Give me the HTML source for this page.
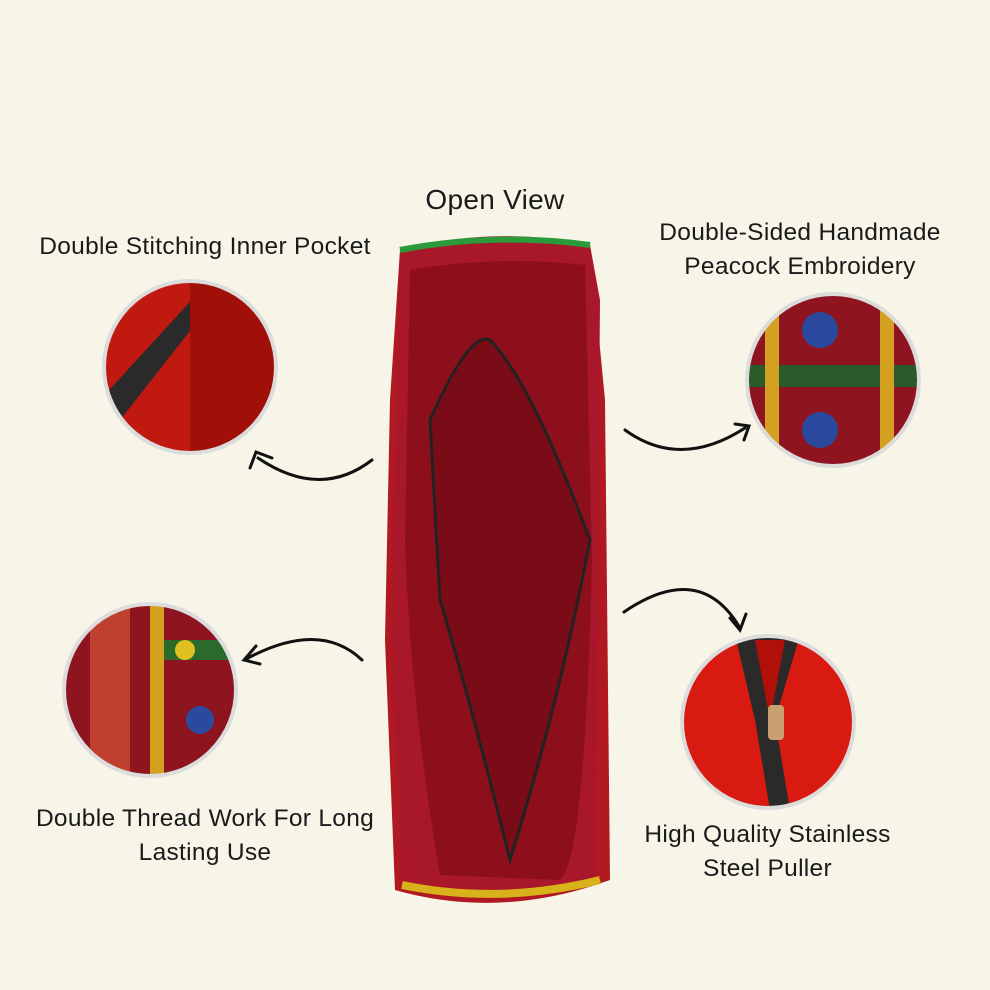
<!DOCTYPE html>
<html><head><style>
body{margin:0;width:990px;height:990px;background:#f7f4e8;position:relative;overflow:hidden;font-family:"Liberation Sans",sans-serif;color:#1a1a1a}
.t{position:absolute;text-align:center;font-size:24.5px;line-height:34px;letter-spacing:0.3px}
</style></head><body>
<svg width="990" height="990" style="position:absolute;left:0;top:0">
<defs>
<clipPath id="c1"><circle cx="190" cy="367" r="86"/></clipPath>
<clipPath id="c2"><circle cx="833" cy="380" r="86"/></clipPath>
<clipPath id="c3"><circle cx="150" cy="690" r="86"/></clipPath>
<clipPath id="c4"><circle cx="768" cy="722" r="86"/></clipPath>
</defs>
<path d="M400 250 Q495 225 590 245 L605 400 L610 880 Q500 920 395 890 L385 640 L390 400 Z" fill="#b01822"/>
<path d="M400 250 Q495 232 590 245 L600 300 L595 880 Q500 900 402 880 L392 640 Z" fill="#a8172a"/>
<path d="M410 270 Q495 255 585 265 L592 560 Q585 860 560 880 L440 875 Q410 700 405 540 Z" fill="#8e0f1c"/>
<path d="M430 420 Q470 330 490 340 Q530 380 590 540 Q560 700 510 860 Q470 700 440 600 Z" fill="#7a0c17" stroke="#222" stroke-width="3"/>
<path d="M400 250 Q495 232 590 245" stroke="#2a9a3a" stroke-width="6" fill="none"/>
<path d="M402 885 Q500 905 600 880" stroke="#d7b21a" stroke-width="8" fill="none"/>
<g clip-path="url(#c1)"><rect x="100" y="280" width="180" height="180" fill="#c01a10"/><path d="M100 400 L210 280 L230 280 L120 420 Z" fill="#2a2a2a"/><rect x="190" y="280" width="90" height="180" fill="#a01008"/></g>
<circle cx="190" cy="367" r="86" fill="none" stroke="#dcdcdc" stroke-width="4"/>
<g clip-path="url(#c2)"><rect x="745" y="290" width="180" height="180" fill="#8e1420"/><rect x="745" y="365" width="180" height="22" fill="#2a5a2a"/><rect x="765" y="290" width="14" height="180" fill="#d4a020"/><rect x="880" y="290" width="14" height="180" fill="#d4a020"/><circle cx="820" cy="330" r="18" fill="#2a4aa0"/><circle cx="820" cy="430" r="18" fill="#2a4aa0"/></g>
<circle cx="833" cy="380" r="86" fill="none" stroke="#dcdcdc" stroke-width="4"/>
<g clip-path="url(#c3)"><rect x="60" y="600" width="180" height="180" fill="#8e1420"/><rect x="90" y="600" width="40" height="180" fill="#c04030"/><rect x="150" y="640" width="90" height="20" fill="#2a6a2a"/><rect x="150" y="600" width="14" height="180" fill="#d4a020"/><circle cx="200" cy="720" r="14" fill="#2a4aa0"/><circle cx="185" cy="650" r="10" fill="#e0c020"/></g>
<circle cx="150" cy="690" r="86" fill="none" stroke="#dcdcdc" stroke-width="4"/>
<g clip-path="url(#c4)"><rect x="680" y="635" width="180" height="180" fill="#d81a10"/><path d="M735 635 L755 720 L770 810 L790 810 L775 720 L800 635 Z" fill="#2a2a2a"/><path d="M755 640 L770 720 L785 640 Z" fill="#b01008"/><rect x="768" y="705" width="16" height="35" rx="4" fill="#c9a070"/></g>
<circle cx="768" cy="722" r="86" fill="none" stroke="#dcdcdc" stroke-width="4"/>
<g stroke="#111" stroke-width="3" fill="none" stroke-linecap="round">
<path d="M372 460 Q320 500 258 458"/><path d="M250 468 L256 452 L272 458"/>
<path d="M625 430 Q680 470 745 428"/><path d="M735 424 L749 426 L744 440"/>
<path d="M362 660 Q320 620 248 658"/><path d="M256 646 L244 660 L260 664"/>
<path d="M624 612 Q700 560 740 628"/><path d="M730 618 L740 630 L746 614"/>
</g>
</svg>
<div class="t" style="left:385px;top:183px;width:220px;font-size:28px">Open View</div>
<div class="t" style="left:15px;top:230px;width:380px">Double Stitching Inner Pocket</div>
<div class="t" style="left:625px;top:216px;width:350px">Double-Sided Handmade<br>Peacock Embroidery</div>
<div class="t" style="left:10px;top:802px;width:390px">Double Thread Work For Long<br>Lasting Use</div>
<div class="t" style="left:605px;top:818px;width:325px">High Quality Stainless<br>Steel Puller</div>
</body></html>
